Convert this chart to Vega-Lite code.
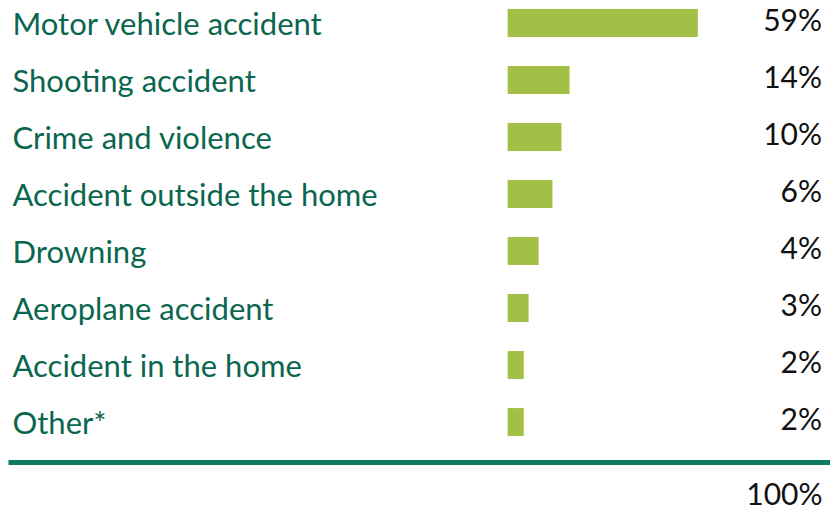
{
  "$schema": "https://vega.github.io/schema/vega-lite/v6.json",
  "autosize": "none",
  "width": 822,
  "height": 462,
  "padding": {"left": 8, "top": 0, "right": 0, "bottom": 49},
  "background": "white",
  "config": {"view": {"stroke": null}},
  "data": {
    "values": [
      {"cause": "Motor vehicle accident", "bar": 59, "pct": "59%"},
      {"cause": "Shooting accident", "bar": 19.2, "pct": "14%"},
      {"cause": "Crime and violence", "bar": 16.7, "pct": "10%"},
      {"cause": "Accident outside the home", "bar": 13.9, "pct": "6%"},
      {"cause": "Drowning", "bar": 9.6, "pct": "4%"},
      {"cause": "Aeroplane accident", "bar": 6.5, "pct": "3%"},
      {"cause": "Accident in the home", "bar": 5.0, "pct": "2%"},
      {"cause": "Other*", "bar": 5.0, "pct": "2%"}
    ]
  },
  "encoding": {
    "y": {
      "field": "cause",
      "type": "nominal",
      "sort": null,
      "scale": {"range": [9, 436], "paddingInner": 0.51, "paddingOuter": 0},
      "axis": {
        "title": null,
        "domain": false,
        "ticks": false,
        "labelAlign": "left",
        "labelPadding": -4,
        "labelLimit": 0,
        "labelFont": "Lato",
        "labelFontSize": 31,
        "labelColor": "#0b6650",
        "labelBaseline": "alphabetic",
        "labelOffset": 12
      }
    }
  },
  "layer": [
    {
      "mark": {"type": "bar", "color": "#a2c045"},
      "encoding": {
        "x": {
          "field": "bar",
          "type": "quantitative",
          "scale": {"domain": [-155, 100], "nice": false, "zero": false},
          "axis": {
            "title": "100%",
            "titleAnchor": "end",
            "titleAlign": "right",
            "titleFont": "Lato",
            "titleFontSize": 30,
            "titleFontWeight": "normal",
            "titleColor": "#111111",
            "titleX": 814,
            "titleY": 42,
            "titleBaseline": "alphabetic",
            "labels": false,
            "ticks": false,
            "grid": false,
            "domain": true,
            "domainColor": "#0f7a62",
            "domainWidth": 5
          }
        }
      }
    },
    {
      "mark": {"type": "text", "align": "right", "baseline": "alphabetic", "dx": -8, "dy": 8, "font": "Lato", "fontSize": 30, "color": "#111111"},
      "encoding": {
        "x": {"value": "width"},
        "text": {"field": "pct"}
      }
    }
  ]
}
